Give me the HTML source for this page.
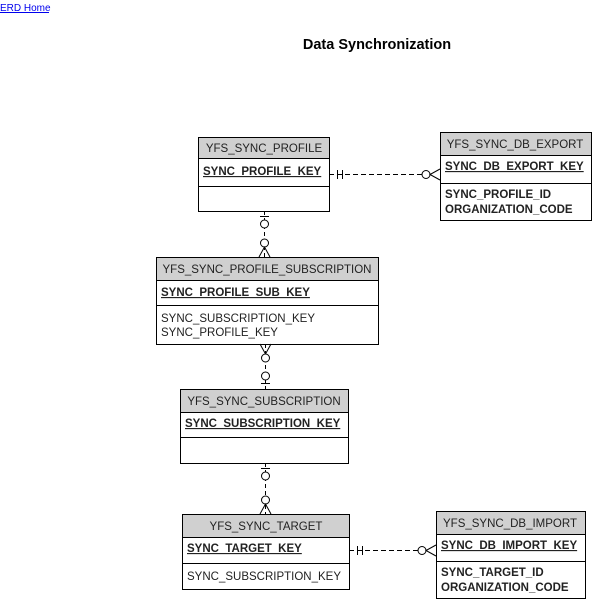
<!DOCTYPE html>
<html><head><style>
body{margin:0;background:#fff;width:592px;height:600px;overflow:hidden;font-family:"Liberation Sans",Arial,sans-serif}
</style></head><body>
<svg width="592" height="600" xmlns="http://www.w3.org/2000/svg" font-family="Liberation Sans, Arial, sans-serif">
<text x="0" y="11" font-size="10" fill="#0000ee">ERD Home</text>
<line x1="0" y1="12.5" x2="49" y2="12.5" stroke="#0000ee" stroke-width="1"/>
<text x="377" y="49" font-size="14.5" font-weight="bold" text-anchor="middle">Data Synchronization</text>
<g stroke="#000" stroke-width="1" fill="none">
<rect x="198.5" y="137.5" width="131" height="21" fill="#d0d0d0"/>
<rect x="198.5" y="158.5" width="131" height="28" fill="#fff"/>
<rect x="198.5" y="186.5" width="131" height="25" fill="#fff"/>
<rect x="440.5" y="132.5" width="151" height="23" fill="#d0d0d0"/>
<rect x="440.5" y="155.5" width="151" height="28" fill="#fff"/>
<rect x="440.5" y="183.5" width="151" height="37" fill="#fff"/>
<rect x="156.5" y="257.5" width="222" height="23" fill="#d0d0d0"/>
<rect x="156.5" y="280.5" width="222" height="25" fill="#fff"/>
<rect x="156.5" y="305.5" width="222" height="39" fill="#fff"/>
<rect x="180.5" y="389.5" width="168" height="23" fill="#d0d0d0"/>
<rect x="180.5" y="412.5" width="168" height="25" fill="#fff"/>
<rect x="180.5" y="437.5" width="168" height="26" fill="#fff"/>
<rect x="182.5" y="514.5" width="167" height="23" fill="#d0d0d0"/>
<rect x="182.5" y="537.5" width="167" height="26" fill="#fff"/>
<rect x="182.5" y="563.5" width="167" height="26" fill="#fff"/>
<rect x="436.5" y="511.5" width="149" height="23" fill="#d0d0d0"/>
<rect x="436.5" y="534.5" width="149" height="27" fill="#fff"/>
<rect x="436.5" y="561.5" width="149" height="37" fill="#fff"/>

<line x1="329" y1="174.5" x2="422" y2="174.5" stroke-dasharray="5,3"/>
<line x1="337.5" y1="170" x2="337.5" y2="179"/>
<line x1="342.5" y1="170" x2="342.5" y2="179"/>
<circle cx="426" cy="174.5" r="4" fill="#fff"/>
<path d="M440 169 L430 174.5 L440 180"/>

<line x1="349" y1="550.5" x2="418" y2="550.5" stroke-dasharray="5,3"/>
<line x1="357.5" y1="546" x2="357.5" y2="555"/>
<line x1="362.5" y1="546" x2="362.5" y2="555"/>
<circle cx="422" cy="550.5" r="4" fill="#fff"/>
<path d="M436 545 L426 550.5 L436 556"/>

<line x1="264.5" y1="211" x2="264.5" y2="257" stroke-dasharray="4,3"/>
<line x1="260" y1="216.5" x2="269" y2="216.5"/>
<circle cx="264.5" cy="224" r="4" fill="#fff"/>
<circle cx="264.5" cy="243" r="4" fill="#fff"/>
<path d="M259 257 L264.5 247 L270 257"/>

<line x1="265.5" y1="344" x2="265.5" y2="389" stroke-dasharray="4,3"/>
<path d="M260 344 L265.5 354 L271 344"/>
<circle cx="265.5" cy="358" r="4" fill="#fff"/>
<circle cx="265.5" cy="376" r="4" fill="#fff"/>
<line x1="261" y1="383.5" x2="270" y2="383.5"/>

<line x1="265.5" y1="463" x2="265.5" y2="514" stroke-dasharray="4,3"/>
<line x1="261" y1="468.5" x2="270" y2="468.5"/>
<circle cx="265.5" cy="476" r="4" fill="#fff"/>
<circle cx="265.5" cy="500" r="4" fill="#fff"/>
<path d="M260 514 L265.5 504 L271 514"/>
</g>
<g font-size="11.5" fill="#222">
<text x="264" y="152" text-anchor="middle">YFS_SYNC_PROFILE</text>
<text x="203" y="175" font-weight="bold" text-decoration="underline">SYNC_PROFILE_KEY</text>
<text x="515" y="148" text-anchor="middle">YFS_SYNC_DB_EXPORT</text>
<text x="445" y="170" font-weight="bold" text-decoration="underline">SYNC_DB_EXPORT_KEY</text>
<text x="445" y="198" font-weight="bold">SYNC_PROFILE_ID</text>
<text x="445" y="213" font-weight="bold">ORGANIZATION_CODE</text>
<text x="267" y="273" text-anchor="middle">YFS_SYNC_PROFILE_SUBSCRIPTION</text>
<text x="161" y="296" font-weight="bold" text-decoration="underline">SYNC_PROFILE_SUB_KEY</text>
<text x="161" y="322">SYNC_SUBSCRIPTION_KEY</text>
<text x="161" y="336">SYNC_PROFILE_KEY</text>
<text x="264" y="405" text-anchor="middle">YFS_SYNC_SUBSCRIPTION</text>
<text x="185" y="427" font-weight="bold" text-decoration="underline">SYNC_SUBSCRIPTION_KEY</text>
<text x="266" y="530" text-anchor="middle">YFS_SYNC_TARGET</text>
<text x="187" y="552" font-weight="bold" text-decoration="underline">SYNC_TARGET_KEY</text>
<text x="187" y="580">SYNC_SUBSCRIPTION_KEY</text>
<text x="510" y="527" text-anchor="middle">YFS_SYNC_DB_IMPORT</text>
<text x="441" y="549" font-weight="bold" text-decoration="underline">SYNC_DB_IMPORT_KEY</text>
<text x="441" y="576" font-weight="bold">SYNC_TARGET_ID</text>
<text x="441" y="591" font-weight="bold">ORGANIZATION_CODE</text>
</g>
</svg>
</body></html>
